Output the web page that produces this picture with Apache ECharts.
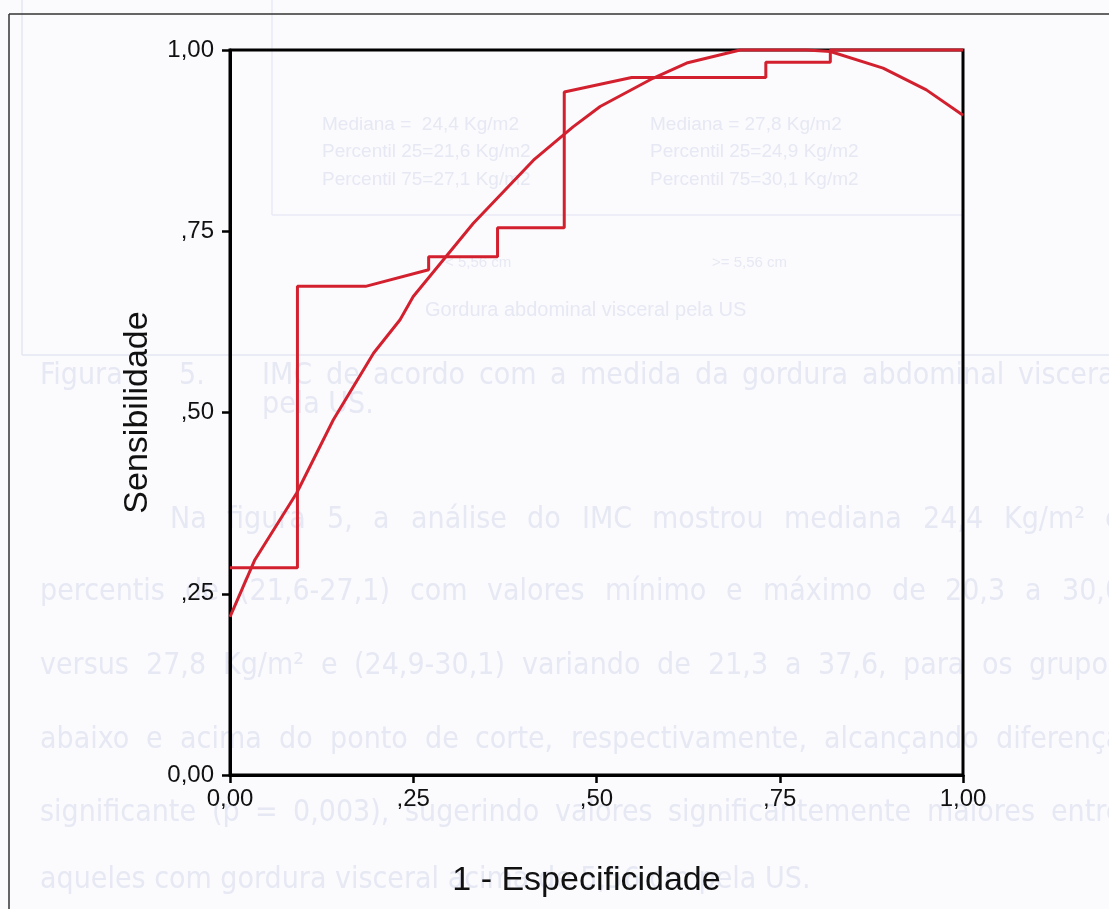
<!DOCTYPE html>
<html>
<head>
<meta charset="utf-8">
<script src="https://cdn.jsdelivr.net/npm/echarts@6/dist/echarts.min.js"></script>
<style>
html,body{margin:0;padding:0;background:#fbfbfe;}
#chart{width:1109px;height:909px;}
</style>
</head>
<body>
<div id="chart"></div>
<script>
// ---- data ----
const tickLabels = ['0,00', ',25', ',50', ',75', '1,00'];
// empirical (step) ROC curve
const stepFpr = [0.000, 0.092, 0.092, 0.185, 0.271, 0.271, 0.365, 0.365, 0.456, 0.456, 0.548, 0.731, 0.731, 0.819, 0.819, 1.000];
const stepTpr = [0.286, 0.286, 0.674, 0.674, 0.697, 0.715, 0.715, 0.755, 0.755, 0.942, 0.962, 0.962, 0.983, 0.983, 1.000, 1.000];
// fitted ROC curve
const fitFpr = [0.000, 0.034, 0.091, 0.141, 0.196, 0.232, 0.250, 0.332, 0.414, 0.468, 0.505, 0.577, 0.623, 0.696, 0.787, 0.819, 0.891, 0.950, 1.000];
const fitTpr = [0.218, 0.297, 0.389, 0.490, 0.582, 0.628, 0.660, 0.761, 0.848, 0.894, 0.922, 0.961, 0.982, 1.000, 1.000, 0.998, 0.975, 0.945, 0.910];
const xTitle = '1 - Especificidade';
const yTitle = 'Sensibilidade';

// faint show-through text from the scanned page: [text, left, centerY, size, justifyTo]
const ghostLines = [
  ['Figura  5.', 40, 376, 30, 205],
  ['IMC de acordo com a medida da gordura abdominal visceral', 262, 376, 30, 1122],
  ['pela US.', 262, 405, 30, 0],
  ['Na figura 5, a análise do IMC mostrou mediana 24,4 Kg/m\u00B2 e', 170, 520, 30, 1122],
  ['percentis de (21,6-27,1) com valores mínimo e máximo de 20,3 a 30,0', 40, 592, 30, 1122],
  ['versus 27,8 Kg/m\u00B2  e (24,9-30,1) variando de 21,3 a 37,6, para os grupos', 40, 666, 30, 1122],
  ['abaixo e acima do ponto de corte, respectivamente, alcançando diferença', 40, 740, 30, 1122],
  ['significante (p = 0,003), sugerindo valores significantemente maiores entre', 40, 813, 30, 1122],
  ['aqueles com gordura visceral acima de 5,56 cm pela US.', 40, 880, 30, 0],
  ['Mediana =  24,4 Kg/m2', 322, 125, 19, 0],
  ['Percentil 25=21,6 Kg/m2', 322, 152, 19, 0],
  ['Percentil 75=27,1 Kg/m2', 322, 180, 19, 0],
  ['Mediana = 27,8 Kg/m2', 650, 125, 19, 0],
  ['Percentil 25=24,9 Kg/m2', 650, 152, 19, 0],
  ['Percentil 75=30,1 Kg/m2', 650, 180, 19, 0],
  ['< 5,56 cm', 445, 263, 15, 0],
  ['>= 5,56 cm', 712, 263, 15, 0],
  ['Gordura abdominal visceral pela US', 425, 310, 20, 0]
];

const chart = echarts.init(document.getElementById('chart'), null, {renderer: 'canvas'});

const zip = (a, b) => a.map((v, i) => [v, b[i]]);
const fmt = v => tickLabels[Math.round(v / 0.25)];
const FONT = '"Liberation Sans", Arial, sans-serif';
const NARROW = '"Liberation Sans Narrow", "DejaVu Sans Condensed", "Liberation Sans", Arial, sans-serif';

const measureCtx = document.createElement('canvas').getContext('2d');
const ghost = [];
ghostLines.forEach(g => {
  let size = g[3];
  const fam = size >= 25 ? NARROW : FONT;
  const base = {type: 'text', z: -10, silent: true, top: g[2] - size / 2};
  if (!g[4]) {
    ghost.push(Object.assign({}, base, {left: g[1], style: {text: g[0], fill: '#e6e8f3', font: size + 'px ' + fam}}));
    return;
  }
  const words = g[0].split(/\s+/);
  let widths, total;
  // shrink the font until the words fit with a sensible minimum gap
  while (true) {
    measureCtx.font = size + 'px ' + fam;
    widths = words.map(w => measureCtx.measureText(w).width);
    total = widths.reduce((a, b) => a + b, 0);
    if (total + (words.length - 1) * size * 0.3 <= g[4] - g[1] || size <= 20) break;
    size -= 1;
  }
  const gap = (g[4] - g[1] - total) / (words.length - 1);
  let x = g[1];
  words.forEach((w, i) => {
    ghost.push(Object.assign({}, base, {top: g[2] - size / 2, left: Math.round(x), style: {text: w, fill: '#e6e8f3', font: size + 'px ' + fam}}));
    x += widths[i] + gap;
  });
});
ghost.push(
  {type: 'line', z: -10, silent: true, shape: {x1: 22, y1: 0, x2: 22, y2: 355}, style: {stroke: '#e3e6f2', lineWidth: 1.5}},
  {type: 'line', z: -10, silent: true, shape: {x1: 22, y1: 355, x2: 1109, y2: 355}, style: {stroke: '#e3e6f2', lineWidth: 1.5}},
  {type: 'line', z: -10, silent: true, shape: {x1: 272, y1: 0, x2: 272, y2: 215}, style: {stroke: '#e8eaf5', lineWidth: 1.5}},
  {type: 'line', z: -10, silent: true, shape: {x1: 272, y1: 215, x2: 963, y2: 215}, style: {stroke: '#e8eaf5', lineWidth: 1.5}},
  // page frame
  {type: 'line', z: 5, silent: true, shape: {x1: 9, y1: 14, x2: 1109, y2: 14}, style: {stroke: '#333', lineWidth: 1.5}},
  {type: 'line', z: 5, silent: true, shape: {x1: 9, y1: 14, x2: 9, y2: 909}, style: {stroke: '#333', lineWidth: 1.5}}
);

const axisCommon = {
  type: 'value', min: 0, max: 1, interval: 0.25,
  splitLine: {show: false},
  axisLine: {show: true, onZero: false, lineStyle: {color: '#000', width: 3}},
  axisTick: {show: true, length: 8, lineStyle: {color: '#000', width: 2.5}},
  nameLocation: 'middle'
};

chart.setOption({
  backgroundColor: '#fbfbfe',
  animation: false,
  grid: {left: 230, top: 50, width: 733, height: 725, show: true, borderColor: '#000', borderWidth: 3, backgroundColor: 'transparent'},
  xAxis: Object.assign({}, axisCommon, {
    name: xTitle, nameGap: 89,
    nameTextStyle: {fontFamily: FONT, fontSize: 34, color: '#111', padding: [0, 20, 0, 0]},
    axisLabel: {formatter: fmt, margin: 12, fontFamily: FONT, fontSize: 24, color: '#111'}
  }),
  yAxis: Object.assign({}, axisCommon, {
    name: yTitle, nameGap: 75,
    nameTextStyle: {fontFamily: FONT, fontSize: 34, color: '#111'},
    axisLabel: {formatter: fmt, margin: 16, fontFamily: FONT, fontSize: 24, color: '#111'}
  }),
  graphic: ghost,
  series: [
    {type: 'line', data: zip(stepFpr, stepTpr), symbol: 'none', clip: false,
     lineStyle: {color: '#d3202f', width: 3}},
    {type: 'line', data: zip(fitFpr, fitTpr), symbol: 'none', clip: false,
     lineStyle: {color: '#d3202f', width: 3}}
  ]
});
</script>
</body>
</html>
